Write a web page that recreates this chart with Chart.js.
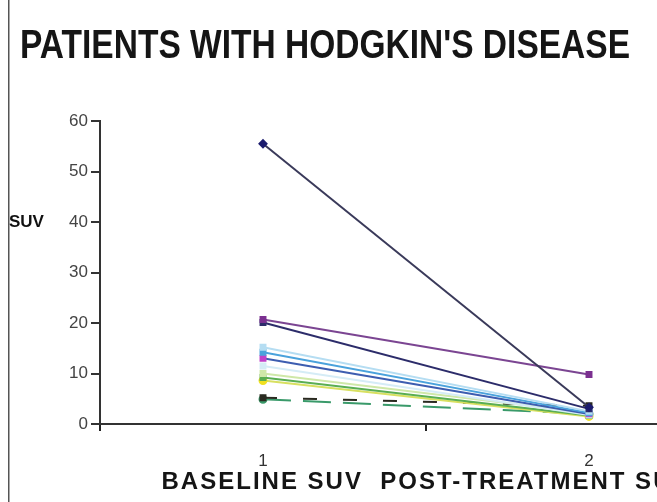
<!DOCTYPE html>
<html>
<head>
<meta charset="utf-8">
<script src="https://cdn.jsdelivr.net/npm/chart.js@4"></script>
<style>
  html, body { margin: 0; padding: 0; background: #fff; }
  #wrap { width: 657px; height: 502px; overflow: hidden; position: relative; }
</style>
</head>
<body>
<div id="wrap"><canvas id="chart" width="760" height="502"></canvas></div>
<script>
var categories = ["1", "2"];
var yTicks = [0, 10, 20, 30, 40, 50, 60];

// one array per patient: baseline SUV, post-treatment SUV
var patient1 = [55.5, 3.3];
var patient2 = [20.7, 9.8];
var patient3 = [20.1, 3.0];
var patient4 = [15.2, 2.5];
var patient5 = [14.2, 2.2];
var patient6 = [13.0, 2.0];
var patient7 = [11.5, 1.8];
var patient8 = [10.0, 2.2];
var patient9 = [9.2, 1.7];
var patient10 = [8.6, 1.5];
var patient11 = [5.2, 3.6];
var patient12 = [4.9, 2.0];

var titleText = "PATIENTS WITH HODGKIN'S DISEASE";
var xTitle = "BASELINE SUV  POST-TREATMENT SUV";
var yTitle = "SUV";

function series(data, line, point, style, dash) {
  return {
    data: data,
    borderColor: line,
    backgroundColor: point,
    pointBorderColor: point,
    pointStyle: style || "rect",
    pointRadius: 3.5,
    borderWidth: 2,
    borderDash: dash || []
  };
}

var extras = {
  id: "extras",
  afterDraw: function(chart) {
    var ctx = chart.ctx;
    var x = chart.scales.x;
    var y = chart.scales.y;
    ctx.save();
    // frame line on the left
    ctx.fillStyle = "#555";
    ctx.fillRect(8, 0, 1.5, 502);
    // chart title, squeezed to fit like the original
    ctx.fillStyle = "#151515";
    ctx.font = "bold 41px 'Liberation Sans', Arial, sans-serif";
    ctx.textBaseline = "alphabetic";
    var w = ctx.measureText(titleText).width;
    ctx.translate(20, 58);
    ctx.scale(610 / w, 1);
    ctx.fillText(titleText, 0, 0);
    ctx.restore();
    // y axis title next to the 40 tick
    ctx.save();
    ctx.fillStyle = "#111";
    ctx.font = "bold 17px 'Liberation Sans', Arial, sans-serif";
    ctx.textBaseline = "middle";
    ctx.textAlign = "left";
    ctx.fillText(yTitle, 9, y.getPixelForValue(40));
    // x axis title, letter spaced, centred under the axis
    ctx.font = "bold 24px 'Liberation Sans', Arial, sans-serif";
    ctx.letterSpacing = "2px";
    ctx.textAlign = "center";
    ctx.fillStyle = "#151515";
    ctx.fillText(xTitle, (x.left + x.right) / 2, x.bottom - 16);
    ctx.restore();
  }
};

new Chart(document.getElementById("chart").getContext("2d"), {
  type: "line",
  data: {
    labels: categories,
    datasets: [
      series(patient1, "#3a3a5a", "#1c1c6e", "rectRot"),
      series(patient2, "#7b4592", "#7b3090", "rect"),
      series(patient3, "#2c2c6a", "#2c2c6a", "rect"),
      series(patient4, "#b5ddf2", "#b5ddf2", "rect"),
      series(patient5, "#4aa2dc", "#4aa2dc", "rect"),
      series(patient6, "#3d5db0", "#c040c8", "rect"),
      series(patient7, "#d5ecf6", "#d5ecf6", "rect"),
      series(patient8, "#cfe8a8", "#cfe8a8", "rect"),
      series(patient9, "#5aae52", "#5aae52", "rect"),
      series(patient10, "#d8e060", "#f0e020", "circle"),
      series(patient11, "#2a2a20", "#2a2a20", "rect", [14, 26]),
      series(patient12, "#3a9a6a", "#3a9a6a", "circle", [28, 12])
    ]
  },
  options: {
    responsive: false,
    animation: false,
    layout: { padding: { left: 20, right: 8, top: 121, bottom: 4 } },
    plugins: {
      legend: { display: false },
      tooltip: { enabled: false }
    },
    scales: {
      x: {
        offset: true,
        afterFit: function(scale) { scale.height = 74; },
        grid: { offset: true, drawOnChartArea: false, drawTicks: true, tickLength: 7, color: "#222", lineWidth: 2 },
        border: { display: true, color: "#333", width: 2 },
        ticks: { color: "#333", padding: 20, font: { family: "'Liberation Sans', Arial, sans-serif", size: 17 } },
        title: { display: false }
      },
      y: {
        min: 0,
        max: 60,
        afterBuildTicks: function(scale) {
          scale.ticks = yTicks.map(function(v) { return { value: v }; });
        },
        afterFit: function(scale) { scale.width = 80; },
        grid: { drawOnChartArea: false, drawTicks: true, tickLength: 9, color: "#333", lineWidth: 2 },
        border: { display: true, color: "#333", width: 2 },
        ticks: { color: "#444", padding: 3, font: { family: "'Liberation Sans', Arial, sans-serif", size: 17 } }
      }
    }
  },
  plugins: [extras]
});
</script>
</body>
</html>
